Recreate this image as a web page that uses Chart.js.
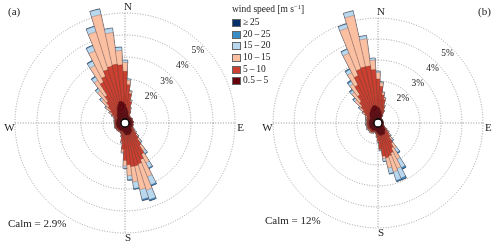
<!DOCTYPE html>
<html>
<head>
<meta charset="utf-8">
<script src="https://cdn.jsdelivr.net/npm/chart.js@4.4.1/dist/chart.umd.min.js"></script>
<style>
  html, body { margin: 0; padding: 0; background: #fff; overflow: hidden; }
  #wrap { position: relative; width: 500px; height: 246px; font-family: "Liberation Serif", serif; color: #222; }
  .box { position: absolute; top: 0; }
  .txt { position: absolute; white-space: nowrap; font-size: 11px; line-height: 1; }
  .lg { position: absolute; white-space: nowrap; font-size: 9.5px; line-height: 1; }
  .sw { position: absolute; width: 7px; height: 6px; border: 0.6px solid #666; }
  sup { font-size: 6.5px; vertical-align: 3px; }
</style>
</head>
<body>
<div id="wrap">
  <div class="box" style="left:0"><canvas id="roseA" width="250" height="246"></canvas></div>
  <div class="box" style="left:253px"><canvas id="roseB" width="250" height="246"></canvas></div>
  <div class="txt" style="left:8px;top:6px">(a)</div>
  <div class="txt" style="left:478px;top:6px">(b)</div>
  <div class="txt" style="left:8px;top:218px">Calm = 2.9%</div>
  <div class="txt" style="left:265px;top:215px">Calm = 12%</div>
  <div id="legend"></div>
</div>
<script>
// 72 direction bins of 5 degrees, 0 = N, clockwise
const dirs = Array.from({ length: 72 }, (_, i) => i * 5);

const speedLabels = ["0.5\u2009\u2013\u20095", "5\u2009\u2013\u200910", "10\u2009\u2013\u200915", "15\u2009\u2013\u200920", "20\u2009\u2013\u200925", "\u2265\u200925"];
const speedColors = ["#67000d", "#cb4030", "#fbbfa2", "#b9d8ee", "#3a8cc3", "#08306b"];
const pctLabels = [2, 3, 4, 5];
const ringValues = [0, 1, 2, 3, 4, 5];

// (a) frequency in % per direction bin and speed class
const a05 = [0.85,0.7,0.6,0.5,0.4,0.35,0.3, 0.32,0.31,0.3,0.31,0.33,0.32,0.3,0.3,0.31,0.33,0.32,0.3,0.31,0.33,0.32,0.31,0.33,0.33,
  0.3,0.35,0.4,0.45,0.5,0.5,0.55,0.55,0.55,0.55,0.55,0.5,0.45,0.4,0.37,0.36,
  0.37,0.38,0.39,0.38,0.4,0.39,0.38,0.4,0.41,0.39,0.38,0.4,0.39,0.38,0.39,0.4,0.39,0.38,0.39,
  0.38,0.4,0.45,0.5,0.55,0.6,0.7,0.8,0.9,1.0,1.0,0.95];
const a510 = [1.5,1.05,0.75,0.5,0.3,0.2,0.1, 0.06,0.05,0.05,0.04,0.05,0.06,0.05,0.04,0.05,0.05,0.06,0.05,0.04,0.05,0.06,0.05,0.06,0.08,
  0.15,0.2,0.3,0.45,0.7,1.1,1.25,1.4,1.45,1.45,1.35,1.2,0.75,0.45,0.25,0.15,
  0.08,0.07,0.07,0.06,0.07,0.08,0.07,0.06,0.07,0.08,0.07,0.06,0.07,0.08,0.07,0.08,0.09,0.1,0.12,
  0.2,0.3,0.4,0.55,0.7,0.9,1.4,1.5,1.65,1.65,1.7,1.7];
const a1015 = [0.4,0.2,0.1,0.06,0.04,0.02,0.01, 0,0,0,0,0,0,0,0,0,0,0,0,0,0,0,0,0,0.01,
  0.05,0.08,0.1,0.15,0.3,0.45,0.85,1.25,1.1,0.7,0.5,0.25,0.12,0.06,0.03,0.01,
  0.02,0.01,0.02,0.03,0.02,0.01,0.02,0.02,0.03,0.02,0.01,0.02,0.02,0.03,0.02,0.02,0.03,0.03,0.04,
  0.1,0.15,0.25,0.4,0.6,0.8,0.85,1.25,1.8,2.4,1.45,0.65];
const a1520 = [0.1,0.06,0.04,0.02,0.01,0,0, 0,0,0,0,0,0,0,0,0,0,0,0,0,0,0,0,0,0,
  0.02,0.03,0.05,0.07,0.15,0.25,0.4,0.45,0.45,0.3,0.18,0.1,0.05,0.02,0,0,
  0,0.01,0,0.01,0.01,0,0.01,0,0.01,0.01,0,0.01,0,0.01,0,0.01,0.01,0.01,0.01,
  0.02,0.03,0.05,0.1,0.12,0.18,0.22,0.25,0.25,0.25,0.2,0.15];
const a2025 = [0.01,0,0,0,0,0,0, 0,0,0,0,0,0,0,0,0,0,0,0,0,0,0,0,0,0,
  0,0,0.01,0.02,0.03,0.05,0.06,0.06,0.06,0.05,0.03,0.01,0,0,0,0,
  0,0,0,0,0,0,0,0,0,0,0,0,0,0,0,0,0,0,0,
  0,0,0.01,0.02,0.03,0.04,0.04,0.03,0.02,0.02,0.01,0.01];
const a25 = [0,0,0,0,0,0,0, 0,0,0,0,0,0,0,0,0,0,0,0,0,0,0,0,0,0,
  0,0,0,0,0,0,0,0.01,0.01,0,0,0,0,0,0,0,
  0,0,0,0,0,0,0,0,0,0,0,0,0,0,0,0,0,0,0,
  0,0,0,0,0,0,0,0,0,0,0,0];

// (b)
const b05 = [0.75,0.7,0.6,0.55,0.45,0.4,0.3, 0.24,0.22,0.23,0.22,0.21,0.22,0.23,0.22,0.21,0.22,0.23,0.22,0.21,0.22,0.23,0.24,0.26,0.28,
  0.32,0.4,0.45,0.5,0.55,0.6,0.6,0.6,0.6,0.6,0.55,0.5,0.45,0.4,0.38,0.36,
  0.38,0.4,0.42,0.43,0.42,0.41,0.42,0.43,0.44,0.42,0.41,0.42,0.43,0.42,0.41,0.42,0.43,0.42,0.41,
  0.4,0.45,0.5,0.55,0.6,0.65,0.7,0.75,0.8,0.85,0.85,0.8];
const b510 = [1.35,1.05,0.75,0.6,0.4,0.25,0.12, 0.04,0.03,0.03,0.03,0.04,0.03,0.03,0.04,0.03,0.03,0.03,0.04,0.03,0.03,0.04,0.04,0.05,0.06,
  0.12,0.18,0.25,0.35,0.6,0.75,0.95,1.05,1.1,1.0,0.7,0.35,0.2,0.12,0.08,0.06,
  0.09,0.1,0.1,0.11,0.1,0.09,0.1,0.11,0.1,0.09,0.1,0.11,0.1,0.1,0.11,0.1,0.12,0.13,0.15,
  0.2,0.3,0.4,0.55,0.7,0.95,1.35,1.7,1.9,1.9,1.9,1.75];
const b1015 = [0.3,0.18,0.12,0.08,0.04,0.02,0.01, 0,0,0,0,0,0,0,0,0,0,0,0,0,0,0,0,0,0.01,
  0.04,0.06,0.1,0.15,0.3,0.6,0.8,0.8,0.5,0.12,0.02,0.05,0.03,0.01,0,0,
  0.05,0.04,0.05,0.06,0.05,0.04,0.05,0.06,0.05,0.04,0.05,0.06,0.05,0.04,0.05,0.05,0.06,0.06,0.07,
  0.08,0.12,0.2,0.4,0.55,0.6,0.65,1.15,2.05,2.5,1.3,0.45];
const b1520 = [0.07,0.04,0.03,0.02,0.01,0,0, 0,0,0,0,0,0,0,0,0,0,0,0,0,0,0,0,0,0,
  0.02,0.03,0.05,0.08,0.22,0.45,0.5,0.42,0.26,0.12,0.05,0.02,0.01,0,0,0,
  0.01,0,0.01,0,0.01,0.01,0,0.01,0,0.01,0.01,0,0.01,0,0.01,0.01,0.01,0.01,0.02,
  0.02,0.03,0.06,0.1,0.12,0.15,0.18,0.2,0.2,0.22,0.15,0.1];
const b2025 = [0,0,0,0,0,0,0, 0,0,0,0,0,0,0,0,0,0,0,0,0,0,0,0,0,0,
  0,0.01,0.01,0.02,0.05,0.08,0.08,0.06,0.04,0.02,0.01,0,0,0,0,0,
  0,0,0,0,0,0,0,0,0,0,0,0,0,0,0,0,0,0,0,
  0,0.01,0.02,0.04,0.05,0.06,0.05,0.03,0.02,0.01,0.01,0];
const b25 = [0,0,0,0,0,0,0, 0,0,0,0,0,0,0,0,0,0,0,0,0,0,0,0,0,0,
  0,0,0,0,0.01,0.02,0.02,0.01,0,0,0,0,0,0,0,0,
  0,0,0,0,0,0,0,0,0,0,0,0,0,0,0,0,0,0,0,
  0,0,0,0,0,0.01,0,0,0,0,0,0];

// polarArea has no stacking: draw running totals, smallest on top
function stacked(classes) {
  const run = dirs.map(() => 0);
  return classes.map((cls, k) => ({
    data: cls.map((v, i) => (run[i] = +(run[i] + v).toFixed(3))),
    backgroundColor: speedColors[k],
    borderColor: "rgba(60,30,30,0.5)",
    borderWidth: 0.45,
  }));
}

const roseDecor = {
  id: "roseDecor",
  beforeDatasetsDraw(chart) {
    const r = chart.scales.r, ctx = chart.ctx;
    const cx = r.xCenter, cy = r.yCenter, rr = r.getDistanceFromCenterForValue(5);
    ctx.save();
    ctx.strokeStyle = "#777";
    ctx.lineWidth = 0.8;
    ctx.setLineDash([1, 1.6]);
    ctx.beginPath();
    ctx.moveTo(cx - rr, cy); ctx.lineTo(cx + rr, cy);
    ctx.moveTo(cx, cy - rr); ctx.lineTo(cx, cy + rr);
    ctx.stroke();
    ctx.restore();
  },
  afterDatasetsDraw(chart) {
    const r = chart.scales.r, ctx = chart.ctx;
    ctx.save();
    ctx.beginPath();
    ctx.arc(r.xCenter, r.yCenter, 4, 0, Math.PI * 2);
    ctx.fillStyle = "#fff";
    ctx.fill();
    ctx.lineWidth = 1.3;
    ctx.strokeStyle = "#000";
    ctx.stroke();
    ctx.restore();
  },
  afterDraw(chart) {
    const r = chart.scales.r, ctx = chart.ctx;
    const cx = r.xCenter, cy = r.yCenter;
    const d = r.getDistanceFromCenterForValue(5) + 5.5;
    ctx.save();
    ctx.fillStyle = "#222";
    ctx.textAlign = "center";
    ctx.textBaseline = "middle";
    ctx.font = '11px "Liberation Serif"';
    ctx.fillText("N", cx + 3, cy - d);
    ctx.fillText("S", cx + 3, cy + d);
    ctx.fillText("W", cx - d, cy + 5);
    ctx.fillText("E", cx + d, cy + 5);
    ctx.font = '9.5px "Liberation Serif"';
    pctLabels.forEach((v) => {
      const p = r.getDistanceFromCenterForValue(v - 0.32) * Math.SQRT1_2;
      ctx.fillText(v + "%", cx + p, cy - p);
    });
    ctx.restore();
  },
};

function makeRose(id, classes, max) {
  return new Chart(document.getElementById(id), {
    type: "polarArea",
    data: { labels: dirs, datasets: stacked(classes) },
    options: {
      responsive: false,
      animation: false,
      layout: { padding: 0 },
      plugins: { legend: { display: false }, tooltip: { enabled: false } },
      scales: {
        r: {
          min: 0,
          max: max,
          startAngle: -2.5,
          afterBuildTicks: (s) => { s.ticks = ringValues.map((v) => ({ value: v })); },
          ticks: { display: false },
          angleLines: { display: false },
          pointLabels: { display: false },
          grid: { circular: true, color: "#8a8a8a", lineWidth: 0.8 },
          border: { dash: [1, 1.6] },
        },
      },
    },
    plugins: [roseDecor],
  });
}

makeRose("roseA", [a05, a510, a1015, a1520, a2025, a25], 5.59);
makeRose("roseB", [b05, b510, b1015, b1520, b2025, b25], 5.86);

// legend, top row = strongest class
const legend = document.getElementById("legend");
legend.innerHTML = '<div class="lg" style="left:232px;top:4px">wind speed [m s<sup>\u22121</sup>]</div>';
for (let k = speedLabels.length - 1, row = 0; k >= 0; k--, row++) {
  const y = 19 + row * 11.65;
  legend.innerHTML +=
    `<div class="sw" style="left:232px;top:${y}px;background:${speedColors[k]}"></div>` +
    `<div class="lg" style="left:243px;top:${y - 1}px">${speedLabels[k]}</div>`;
}
</script>
</body>
</html>
